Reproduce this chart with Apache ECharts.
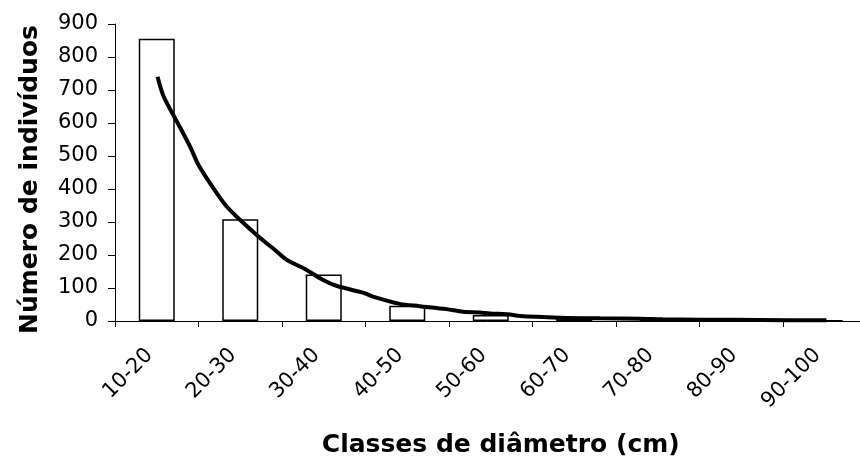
<!DOCTYPE html>
<html>
<head>
<meta charset="utf-8">
<script src="https://cdn.jsdelivr.net/npm/echarts@6/dist/echarts.min.js"></script>
<style>
html,body{margin:0;padding:0;background:#fff;}
#chart{width:860px;height:464px;}
</style>
</head>
<body>
<div id="chart"></div>
<script>
// Diameter classes (cm)
const categories = ['10-20','20-30','30-40','40-50','50-60','60-70','70-80','80-90','90-100'];
// Number of individuals per class (bars)
const individuals = [855, 308, 141, 46, 18, 10, 5, 2, 1];
// Fitted curve: diameter (cm) and number of individuals
const curveDiameter = [15.1, 15.8, 17.4, 19.0, 20.0, 21.8, 23.4, 25.0, 27.0, 29.4, 30.6, 32.8, 34.8, 36.6, 39.7, 40.9, 44.1, 46.5, 49.7, 51.7, 53.7, 54.9, 57.3, 58.5, 63.3, 68.1, 72.9, 75.6, 80.1, 87.2, 95.2];
const curveIndividuals = [740, 682, 605, 528, 473, 402, 346, 306, 260, 210, 185, 157, 126, 106, 86, 74, 52, 45, 36, 28, 26, 23, 20, 15, 10, 8, 7, 5, 4, 3, 2];
// Y tick values
const yTicks = {min: 0, max: 900, interval: 100};

const chart = echarts.init(document.getElementById('chart'), null, {renderer: 'canvas'});
const FONT = 'DejaVu Sans';
const curveData = curveDiameter.map((d, i) => [d, curveIndividuals[i]]);

chart.setOption({
  backgroundColor: '#fff',
  animation: false,
  grid: {left: 115, top: 24, right: -6.5, bottom: 143, containLabel: false, outerBoundsMode: 'none'},
  xAxis: [
    {
      type: 'category',
      data: categories,
      boundaryGap: true,
      axisLine: {show: true, lineStyle: {color: '#000', width: 1}},
      axisTick: {show: true, length: 6, inside: false, lineStyle: {color: '#000'}},
      axisLabel: {rotate: 45, margin: 24, padding: [0, 10, 0, 0], fontFamily: FONT, fontSize: 21, color: '#000'},
      name: 'Classes de diâmetro (cm)',
      nameLocation: 'middle',
      nameGap: 112,
      nameTextStyle: {fontFamily: FONT, fontSize: 25, fontWeight: 'bold', color: '#000', padding: [0, 0, 0, 20]},
      splitLine: {show: false}
    },
    {
      type: 'value',
      min: 10,
      max: 100,
      show: false,
      splitLine: {show: false}
    }
  ],
  yAxis: {
    type: 'value',
    min: yTicks.min,
    max: yTicks.max,
    interval: yTicks.interval,
    axisLine: {show: true, lineStyle: {color: '#000', width: 1}},
    axisTick: {show: true, length: 7, inside: false, lineStyle: {color: '#000'}},
    axisLabel: {margin: 17, fontFamily: FONT, fontSize: 21, color: '#000'},
    splitLine: {show: false},
    name: 'Número de indivíduos',
    nameLocation: 'middle',
    nameGap: 72,
    nameTextStyle: {fontFamily: FONT, fontSize: 25, fontWeight: 'bold', color: '#000', padding: [0, 14, 0, 0]}
  },
  series: [
    {
      type: 'bar',
      data: individuals,
      xAxisIndex: 0,
      barWidth: 36,
      itemStyle: {color: '#fff', borderColor: '#000', borderWidth: 1.5},
      z: 2
    },
    {
      type: 'line',
      data: curveData,
      xAxisIndex: 1,
      showSymbol: false,
      symbol: 'none',
      smooth: 0.3,
      lineStyle: {color: '#000', width: 4},
      z: 3
    }
  ]
});
</script>
</body>
</html>
